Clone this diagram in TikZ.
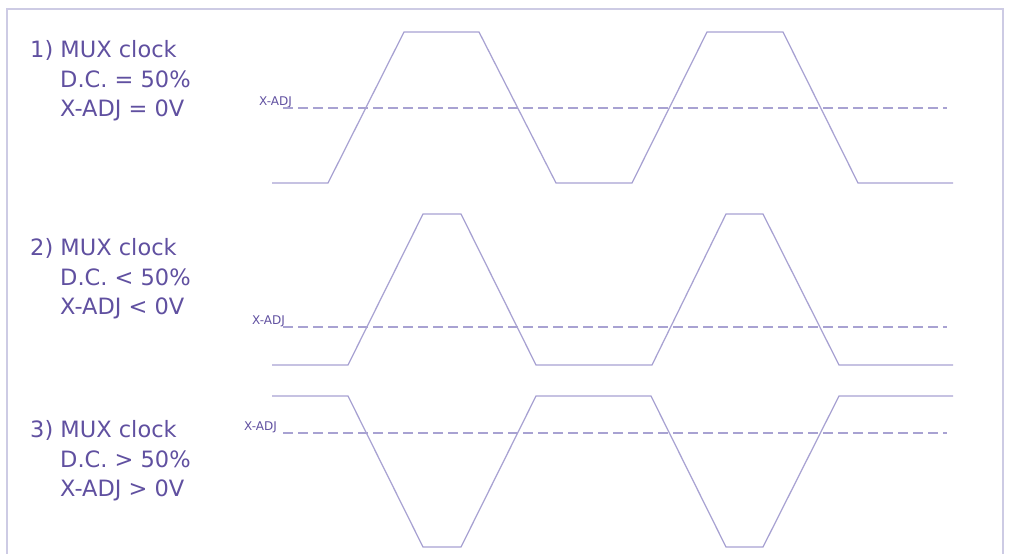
\documentclass[tikz,border=0pt]{standalone}
\usepackage{fontspec}
\setmainfont{DejaVu Sans}
\usepackage{xcolor}
\usepackage{tikz}
\usetikzlibrary{positioning,calc}
\definecolor{muxtext}{RGB}{96,80,160}
\definecolor{muxwave}{RGB}{168,162,210}
\definecolor{muxframe}{RGB}{205,203,228}
\tikzset{
wave/.style={
draw=muxwave,
line width=1.25pt,
line join=miter
},
level/.style={
draw=muxwave,
line width=1.2pt,
dash pattern=on 10pt off 5pt
},
caption/.style={
inner sep=0pt,
anchor=base west,
text=muxtext,
font=\fontsize{22.5}{27}\selectfont
},
adjlabel/.style={
inner sep=0pt,
anchor=base east,
text=muxtext,
font=\fontsize{12}{14}\selectfont
}
}

\begin{document}
\begin{tikzpicture}[x=1pt,y=-1pt]
\useasboundingbox (0,0) rectangle (1009,554);
% frame
\draw[muxframe,line width=1.5pt] (7,554) -- (7,9) -- (1003,9) -- (1003,554);

% captions
\foreach \i/\y/\op in {1/57/=,2/255/<,3/437/>}{
\node[caption] (mux\i) at (30,\y) {\i) MUX clock};
\node[caption] (dc\i) at (60,\y+30) {D.C. \op{} 50\%};
\node[caption] (adj\i) at (60,\y+59) {X-ADJ \op{} 0V};
}

% threshold levels
\foreach \i/\x/\y in {1/292/108,2/285/327,3/277/433}{
\node[adjlabel] (lbl\i) at (\x,\y-3) {X-ADJ};
\draw[level] (283,\y) -- (947,\y);
}

% 1) D.C. = 50%
\draw[wave] (272,183) -- (328,183) -- (404,32) -- (479,32) -- (556,183)
  -- (632,183) -- (707,32) -- (783,32) -- (858,183) -- (953,183);
% 2) D.C. < 50%
\draw[wave] (272,365) -- (348,365) -- (423,214) -- (461,214) -- (536,365)
  -- (652,365) -- (726,214) -- (763,214) -- (839,365) -- (953,365);
% 3) D.C. > 50%
\draw[wave] (272,396) -- (348,396) -- (423,547) -- (461,547) -- (536,396)
  -- (651,396) -- (726,547) -- (763,547) -- (839,396) -- (953,396);
\end{tikzpicture}
\end{document}
